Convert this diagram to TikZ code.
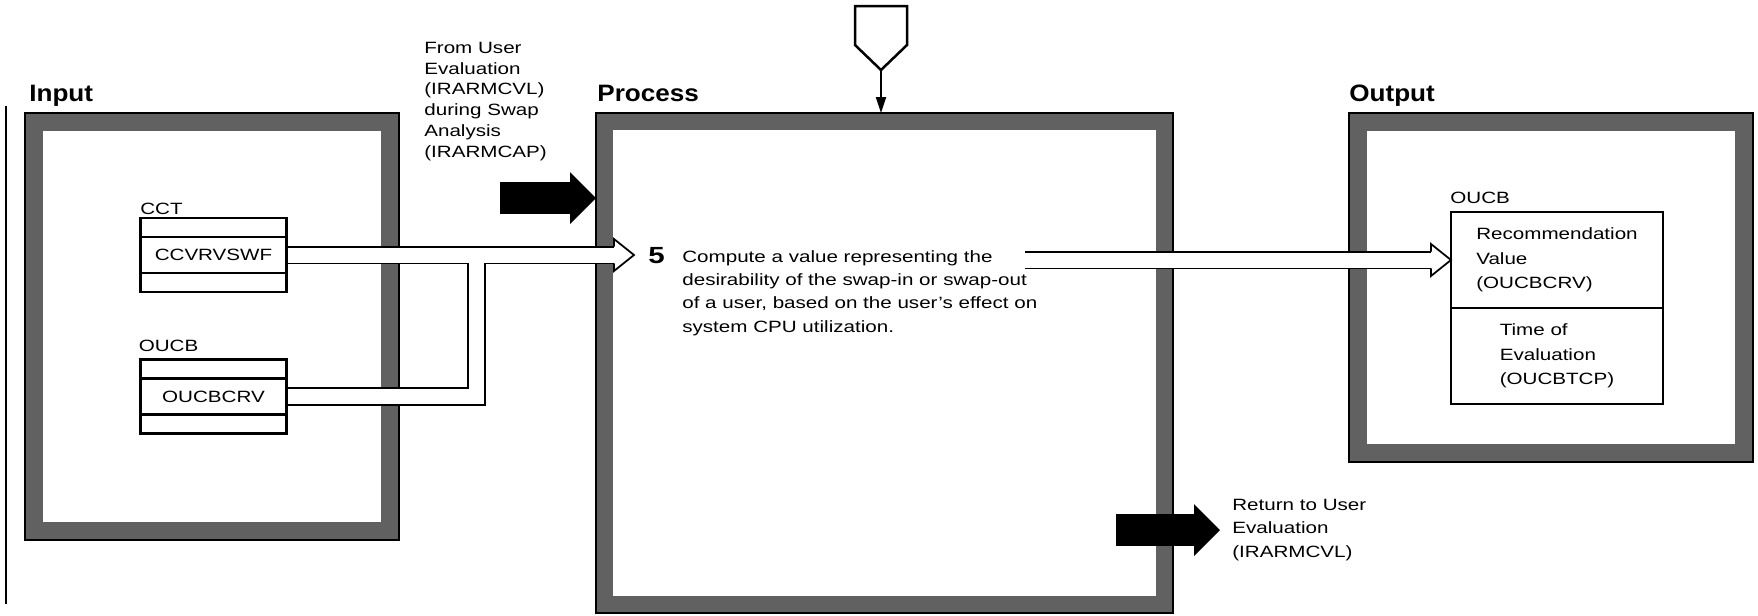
\documentclass[tikz,border=0pt]{standalone}
\usepackage{fontspec}
\setmainfont{Liberation Sans}[FakeStretch=1.26]
\newfontfamily\headfont{Liberation Sans}[FakeStretch=1.1]
\usetikzlibrary{arrows.meta, positioning, calc}
\newlength\unitpx
\setlength\unitpx{0.2mm}
\tikzset{
	frame/.style={draw=black!62, line width=18\unitpx, fill=white, inner sep=0pt},
	head/.style={font=\headfont\bfseries\fontsize{13.5}{16}\selectfont, anchor=base west, inner sep=0pt},
	tag/.style={font=\fontsize{9.3}{13.1}\selectfont, anchor=base west, inner sep=0pt},
	slot/.style={draw, line width=1.3pt, minimum width=146\unitpx, minimum height=19\unitpx, inner sep=0pt, outer sep=0pt},
	field/.style={slot, minimum height=36\unitpx, font=\fontsize{9.3}{12}\selectfont},
	outcell/.style={draw, line width=1.3pt, minimum width=212\unitpx, minimum height=96\unitpx, inner sep=0pt, outer sep=0pt, align=left, font=\fontsize{9.3}{14}\selectfont},
	pipeedge/.style={line width=18.5\unitpx, shorten >=20\unitpx},
	pipecore/.style={line width=15\unitpx, white, shorten >=20\unitpx, shorten <=1\unitpx},
	fatarrow/.style={line width=32\unitpx, -{Triangle[length=5.2mm 0 0, width=10.4mm 0 0, line width=0pt]}},
	pipehead/.pic={
		\fill[white] (-20,-16) -- (0,0) -- (-20,16) -- cycle;
		\draw[line width=1.75\unitpx] (-20,-8.4) -- (-20,-16) -- (0,0) -- (-20,16) -- (-20,8.4);
	},
}
\begin{document}
\begin{tikzpicture}[x=0.2mm, y=-0.2mm]
\useasboundingbox (0,0) rectangle (1758,615);
% the three frames
\node[frame, minimum width=356\unitpx, minimum height=409\unitpx] (inbox) at (212,326.5) {};
\node[frame, line width=17\unitpx, minimum width=560\unitpx, minimum height=483\unitpx] (procbox) at (884.5,363) {};
\node[frame, minimum width=386\unitpx, minimum height=331\unitpx] (outbox) at (1551,287.5) {};
\foreach \b in {inbox,procbox,outbox}
	\draw[line width=2\unitpx] (\b.north west) rectangle (\b.south east);
\draw[line width=2.5\unitpx] (6,106) -- (6,604);

\node[head] (inhead) at (29,101) {Input};
\node[head] (prochead) at (597,101) {Process};
\node[head] (outhead) at (1349,101) {Output};

% input tables
\node[tag] (cctname) at (140,214) {CCT};
\node[slot] (cct1) at (213.5,227.5) {};
\node[field, below=0pt of cct1] (cctval) {CCVRVSWF};
\node[slot, below=0pt of cctval] (cct3) {};

\node[tag] (oucbname) at (138.5,351) {OUCB};
\node[slot] (oucb1) at (213.5,369) {};
\node[field, below=0pt of oucb1] (oucbval) {OUCBCRV};
\node[slot, below=0pt of oucbval] (oucb3) {};

% output table
\node[tag] (outname) at (1450,203) {OUCB};
\node[outcell] (recval) at (1557,260) {Recommendation\\Value\\(OUCBCRV)};
\node[outcell, below=0pt of recval] (timeval) {Time of\\Evaluation\\(OUCBTCP)};

% process step (base = last line)
\node[tag, font=\bfseries\fontsize{13.3}{14}\selectfont] (stepnum) at (648,263) {5};
\node[tag, align=left] (stepdesc) at (682,332) {Compute a value representing the\\desirability of the swap-in or swap-out\\of a user, based on the user's effect on\\system CPU utilization.};

% data pipes
\coordinate (intip) at ($(procbox.west |- cctval.east)+(38,0)$);
\coordinate (join) at ($(cctval.east)+(190,0)$);
\coordinate (outstart) at (1025,260);
\draw[pipeedge] (cctval.east) -- (intip);
\draw[pipeedge, shorten >=0pt] (oucbval.east) -| (join);
\draw[pipeedge] (outstart) -- (recval.west);
\draw[pipecore] (cctval.east) -- (intip);
\draw[pipecore, shorten >=0pt] (oucbval.east) -| (join);
\draw[pipecore, shorten <=0pt] (outstart) -- (recval.west);
\pic at (intip) {pipehead};
\pic at (recval.west) {pipehead};

% entry and exit
\node[tag, font=\fontsize{9.3}{11.8}\selectfont, align=left] (fromtxt) at (424,157) {From User\\Evaluation\\(IRARMCVL)\\during Swap\\Analysis\\(IRARMCAP)};
\coordinate (fromstart) at (500,198);
\draw[fatarrow] (fromstart) -- (fromstart -| procbox.west);
\coordinate (retstart) at (1116,530);
\coordinate (retend) at (1220,530);
\draw[fatarrow] (retstart) -- (retend);
\node[tag, align=left] (rettxt) at (1232,557) {Return to User\\Evaluation\\(IRARMCVL)};

% off-page connector
\draw[line width=2.5\unitpx, fill=white] (855,6) -- (907,6) -- (907,45) -- (881,70) -- (855,45) -- cycle;
\coordinate (offpg) at (881,70);
\draw[line width=2\unitpx, -{Triangle[length=3.2mm 0 0, width=2mm 0 0]}] (offpg) -- (offpg |- procbox.north);
\end{tikzpicture}
\end{document}
